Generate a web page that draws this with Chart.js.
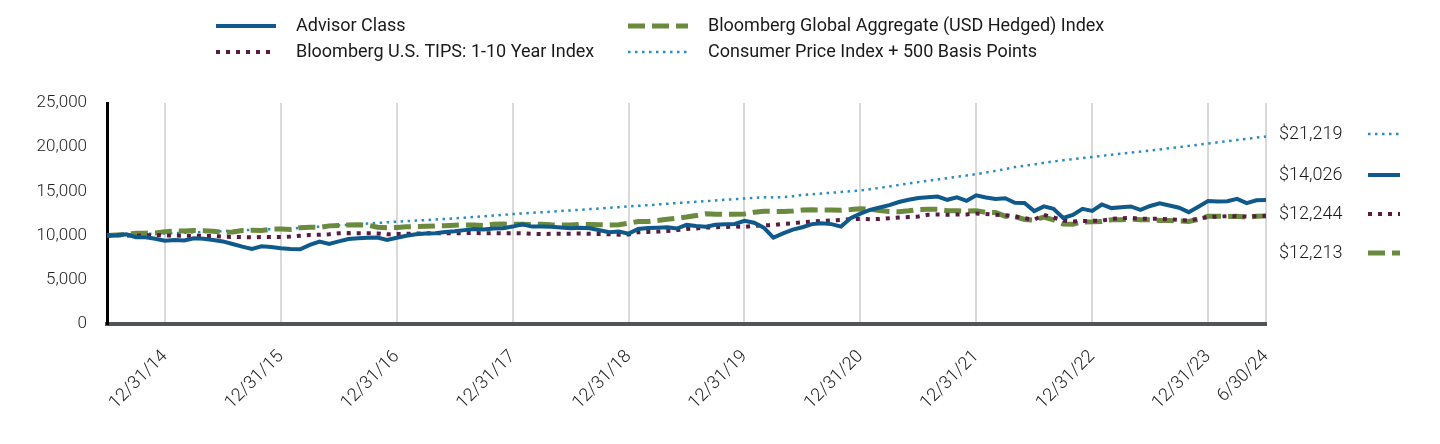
<!DOCTYPE html>
<html>
<head>
<meta charset="utf-8">
<script src="https://cdn.jsdelivr.net/npm/chart.js@4.4.1/dist/chart.umd.min.js"></script>
<style>
  html, body { margin: 0; padding: 0; background: #fff; }
  #wrap { position: relative; width: 1440px; height: 444px; }
</style>
</head>
<body>
<div id="wrap"><canvas id="growthChart"></canvas></div>
<script>
// month-end dates 6/30/14 .. 6/30/24
var months = [];
for (var i = 0; i <= 120; i++) {
    var m = (5 + i) % 12;
    var y = 2014 + Math.floor((5 + i) / 12);
    var d = new Date(y, m + 1, 0).getDate();
    months.push((m + 1) + '/' + d + '/' + String(y).slice(2));
}

var seriesNames = ['Advisor Class', 'Bloomberg U.S. TIPS: 1-10 Year Index',
    'Bloomberg Global Aggregate (USD Hedged) Index', 'Consumer Price Index + 500 Basis Points'];

var advisorClass = [
    10000, 10050, 10150, 9810, 9800, 9650, 9430, 9500, 9450, 9700, 9650, 9500,
    9340, 9050, 8750, 8500, 8800, 8720, 8560, 8480, 8450, 8940, 9320, 9060,
    9340, 9620, 9700, 9770, 9780, 9510, 9760, 9980, 10150, 10230, 10260, 10400,
    10480, 10620, 10750, 10700, 10800, 10830, 11020, 11270, 11020, 11020, 11000, 10910,
    10830, 10900, 10830, 10600, 10380, 10450, 10220, 10750, 10850, 10900, 10950, 10800,
    11210, 11080, 11000, 11230, 11290, 11320, 11670, 11450, 10900, 9770, 10260, 10680,
    10950, 11300, 11400, 11300, 11020, 11980, 12480, 12900, 13180, 13450, 13800, 14050,
    14250, 14330, 14420, 14050, 14330, 13940, 14560, 14320, 14150, 14220, 13720, 13700,
    12780, 13300, 13030, 12000, 12350, 13030, 12800, 13520, 13110, 13200, 13300, 12920,
    13350, 13650, 13400, 13150, 12650, 13260, 13900, 13860, 13880, 14150, 13680, 14000,
    14026
];

var tipsIndex = [
    10000, 10050, 10020, 9980, 10020, 10080, 10000, 10020, 9980, 10000, 9960, 9960,
    9880, 9850, 9830, 9800, 9850, 9830, 9850, 9890, 9980, 10080, 10100, 10150,
    10260, 10280, 10260, 10270, 10250, 10150, 10170, 10200, 10230, 10260, 10250, 10270,
    10260, 10280, 10290, 10270, 10280, 10260, 10270, 10250, 10200, 10180, 10200, 10220,
    10220, 10240, 10210, 10180, 10150, 10100, 10120, 10380, 10420, 10450, 10530, 10620,
    10760, 10800, 10910, 10950, 10980, 11020, 10990, 11100, 11150, 11200, 11330, 11400,
    11520, 11580, 11670, 11720, 11780, 11850, 11880, 11860, 11880, 11970, 12050, 12100,
    12160, 12350, 12380, 12350, 12380, 12400, 12500, 12450, 12350, 12300, 12160, 11970,
    11800, 12350, 12050, 11700, 11600, 11650, 11670, 11700, 11880, 11970, 12000, 11900,
    11890, 11900, 11850, 11780, 11700, 11900, 12120, 12150, 12200, 12180, 12150, 12200,
    12244
];

var globalAgg = [
    10000, 10080, 10150, 10260, 10280, 10300, 10450, 10500, 10530, 10570, 10550, 10480,
    10380, 10400, 10570, 10600, 10580, 10720, 10760, 10700, 10900, 10950, 10920, 11100,
    11150, 11200, 11220, 11180, 10950, 10900, 10910, 11000, 11020, 11050, 11100, 11120,
    11180, 11210, 11200, 11150, 11280, 11300, 11270, 11280, 11260, 11280, 11220, 11200,
    11200, 11280, 11250, 11230, 11210, 11230, 11400, 11590, 11600, 11700, 11850, 11970,
    12100, 12270, 12460, 12420, 12400, 12420, 12440, 12650, 12760, 12730, 12740, 12780,
    12900, 12920, 12900, 12900, 12880, 12950, 13050, 12990, 12850, 12730, 12700, 12800,
    12950, 12990, 12980, 12820, 12800, 12770, 12800, 12620, 12600, 12200, 12150, 11820,
    11750, 12100, 11780, 11320, 11290, 11550, 11560, 11600, 11780, 11800, 11850, 11800,
    11780, 11700, 11720, 11650, 11600, 11850, 12180, 12200, 12170, 12200, 12080, 12180,
    12213
];

var cpiPlus500 = [
    10000, 10050, 10110, 10160, 10210, 10230, 10250, 10280, 10320, 10370, 10410, 10450,
    10500, 10550, 10600, 10650, 10690, 10720, 10750, 10810, 10870, 10940, 11010, 11080,
    11150, 11220, 11290, 11360, 11430, 11500, 11580, 11640, 11700, 11760, 11820, 11880,
    11950, 12030, 12110, 12190, 12270, 12350, 12440, 12510, 12580, 12640, 12710, 12780,
    12850, 12920, 13000, 13070, 13150, 13220, 13300, 13370, 13440, 13520, 13600, 13680,
    13750, 13820, 13890, 13970, 14050, 14120, 14200, 14270, 14340, 14320, 14350, 14450,
    14600, 14680, 14760, 14850, 14930, 15010, 15100, 15250, 15400, 15560, 15730, 15890,
    16050, 16200, 16350, 16500, 16650, 16800, 16950, 17130, 17320, 17520, 17750, 17900,
    18050, 18230, 18400, 18520, 18640, 18770, 18900, 19020, 19140, 19260, 19380, 19500,
    19620, 19750, 19880, 20010, 20150, 20280, 20420, 20550, 20680, 20810, 20950, 21080,
    21219
];

var yTicks = [0, 5000, 10000, 15000, 20000, 25000];

// line looks
var looks = [
    { color: '#0f5a8a', width: 4, dash: [] },
    { color: '#5a1b42', width: 4, dash: [4, 6] },
    { color: '#6a8b3d', width: 5, dash: [17, 7] },
    { color: '#2b8cc0', width: 2.5, dash: [2.5, 4.5] }
];
var allSeries = [advisorClass, tipsIndex, globalAgg, cpiPlus500];

function isShown(idx) {
    return idx === months.length - 1 || months[idx].indexOf('12/') === 0;
}

function sample(ctx, look, x1, x2, y) {
    ctx.save();
    ctx.strokeStyle = look.color;
    ctx.lineWidth = look.width;
    ctx.setLineDash(look.dash);
    ctx.lineCap = 'butt';
    ctx.beginPath();
    ctx.moveTo(x1, y);
    ctx.lineTo(x2, y);
    ctx.stroke();
    ctx.restore();
}

var extras = {
    id: 'extras',
    afterDraw: function(chart) {
        var ctx = chart.ctx;
        // legend on top
        var spots = [[216, 26], [216, 52], [628, 26], [628, 52]];
        ctx.save();
        ctx.font = '400 18px Roboto';
        ctx.fillStyle = '#1a1a1a';
        ctx.textBaseline = 'middle';
        ctx.textAlign = 'left';
        for (var k = 0; k < 4; k++) {
            sample(ctx, looks[k], spots[k][0], spots[k][0] + 60, spots[k][1]);
            ctx.fillText(seriesNames[k], spots[k][0] + 80, spots[k][1]);
        }
        // ending values on the right
        var order = [3, 0, 1, 2];
        var rows = [134, 175, 214, 253];
        ctx.font = '300 18px Roboto';
        for (var r = 0; r < 4; r++) {
            var s = allSeries[order[r]];
            var v = s[s.length - 1];
            ctx.fillText('$' + v.toLocaleString('en-US'), 1279, rows[r]);
            sample(ctx, looks[order[r]], 1368, 1400, rows[r]);
        }
        ctx.restore();
    }
};

var datasets = allSeries.map(function(s, k) {
    return {
        label: seriesNames[k],
        data: s,
        borderColor: looks[k].color,
        borderWidth: looks[k].width,
        borderDash: looks[k].dash,
        borderCapStyle: 'butt',
        pointRadius: 0,
        tension: 0,
        fill: false,
        order: k
    };
});

Chart.defaults.font.family = 'Roboto';
Chart.defaults.color = '#333';

new Chart(document.getElementById('growthChart').getContext('2d'), {
    type: 'line',
    data: { labels: months, datasets: datasets },
    options: {
        responsive: true,
        maintainAspectRatio: false,
        animation: false,
        layout: { padding: { top: 103, right: 174, left: 0, bottom: 0 } },
        plugins: { legend: { display: false }, tooltip: { enabled: false } },
        scales: {
            x: {
                type: 'category',
                offset: false,
                border: { display: true, color: '#505358', width: 4 },
                grid: {
                    drawTicks: false,
                    lineWidth: 2,
                    color: function(c) { return (c.index > 0 && isShown(c.index)) ? '#d9d9d9' : 'rgba(0,0,0,0)'; }
                },
                ticks: {
                    autoSkip: false,
                    maxRotation: 45,
                    minRotation: 45,
                    padding: 22,
                    font: { size: 18, weight: '300' },
                    color: '#222',
                    callback: function(val, idx) { return isShown(idx) ? months[idx] : ''; }
                },
                afterFit: function(scale) { scale.height = 120; }
            },
            y: {
                min: 0,
                max: 25000,
                afterBuildTicks: function(scale) {
                    scale.ticks = yTicks.map(function(v) { return { value: v }; });
                },
                border: { display: true, color: '#000', width: 3 },
                grid: { display: false },
                ticks: {
                    padding: 12,
                    font: { size: 17, weight: '300' },
                    color: '#222',
                    callback: function(v) { return v.toLocaleString('en-US'); }
                },
                afterFit: function(scale) { scale.width = 107; }
            }
        }
    },
    plugins: [extras]
});
</script>
</body>
</html>
